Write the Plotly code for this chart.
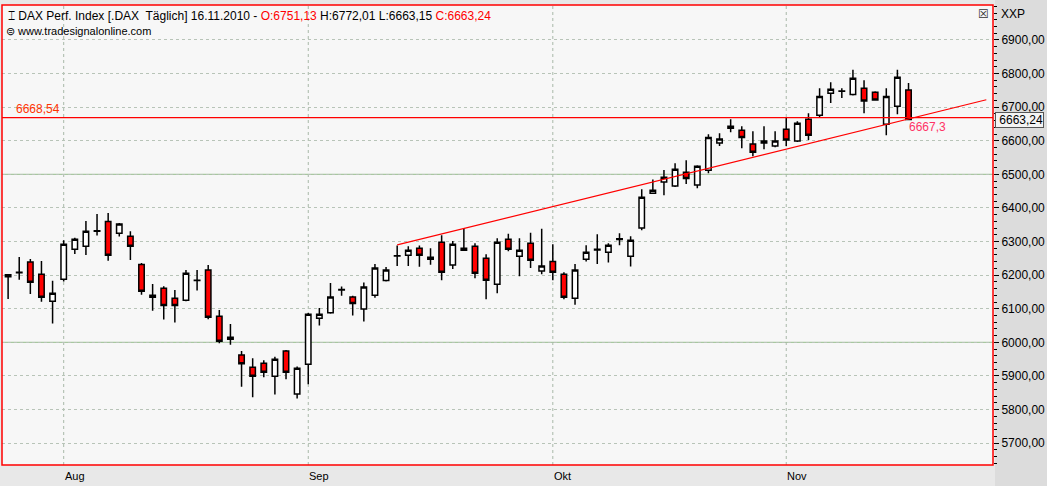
import pandas as pd
import plotly.graph_objects as go

# DAX daily candles, 26.07.2010 - 16.11.2010
dates = pd.bdate_range("2010-07-26", "2010-11-16")
opens = [6201, 6207, 6239, 6203, 6122, 6188, 6277, 6286, 6331, 6360, 6325, 6316, 6232, 6140,
         6161, 6131, 6125, 6184, 6215, 6078, 6015, 5962, 5926, 5938, 5899, 5974, 5846, 5935,
         6072, 6088, 6156, 6135, 6099, 6140, 6184, 6257, 6259, 6280, 6253, 6298, 6230, 6280,
         6286, 6250, 6173, 6307, 6256, 6295, 6212, 6241, 6203, 6131, 6247, 6275, 6268, 6306,
         6256, 6340, 6444, 6477, 6465, 6506, 6468, 6512, 6593, 6643, 6631, 6590, 6599, 6584,
         6634, 6599, 6664, 6676, 6741, 6747, 6738, 6756, 6744, 6649, 6703, 6751]
highs = [6201, 6254, 6248, 6242, 6183, 6304, 6311, 6361, 6382, 6385, 6355, 6331, 6236, 6174,
         6167, 6156, 6215, 6215, 6230, 6096, 6055, 5974, 5953, 5947, 5957, 5977, 5928, 6087,
         6102, 6177, 6166, 6139, 6178, 6233, 6224, 6288, 6286, 6288, 6280, 6319, 6302, 6340,
         6295, 6262, 6310, 6323, 6310, 6326, 6338, 6292, 6209, 6233, 6289, 6322, 6295, 6325,
         6316, 6456, 6485, 6513, 6533, 6542, 6527, 6619, 6622, 6664, 6643, 6628, 6643, 6628,
         6670, 6658, 6682, 6756, 6774, 6756, 6811, 6780, 6747, 6756, 6811, 6772]
lows = [6129, 6186, 6144, 6121, 6056, 6181, 6263, 6260, 6318, 6243, 6315, 6245, 6142, 6094,
        6068, 6059, 6122, 6154, 6069, 5997, 5993, 5868, 5837, 5896, 5845, 5890, 5833, 5875,
        6050, 6085, 6139, 6080, 6062, 6133, 6181, 6227, 6227, 6225, 6231, 6185, 6218, 6274,
        6191, 6128, 6146, 6271, 6197, 6221, 6203, 6185, 6128, 6112, 6241, 6233, 6238, 6289,
        6226, 6334, 6444, 6438, 6462, 6471, 6459, 6503, 6584, 6625, 6578, 6554, 6575, 6581,
        6584, 6596, 6602, 6670, 6712, 6727, 6735, 6682, 6719, 6616, 6679, 6663]
closes = [6195, 6209, 6179, 6134, 6146, 6292, 6307, 6331, 6332, 6259, 6352, 6286, 6152, 6134,
          6110, 6110, 6206, 6185, 6075, 6003, 6009, 5936, 5899, 5911, 5950, 5911, 5923, 6084,
          6084, 6135, 6157, 6116, 6165, 6221, 6215, 6258, 6274, 6259, 6247, 6209, 6292, 6274,
          6206, 6185, 6298, 6277, 6274, 6244, 6227, 6209, 6134, 6215, 6268, 6277, 6289, 6308,
          6304, 6432, 6453, 6491, 6515, 6488, 6524, 6610, 6605, 6637, 6610, 6566, 6593, 6599,
          6602, 6652, 6616, 6732, 6753, 6748, 6786, 6718, 6721, 6732, 6789, 6663]

month_labels = ["Aug", "Sep", "Okt", "Nov"]
month_starts = ["2010-08-02", "2010-09-01", "2010-10-01", "2010-11-01"]
price_ticks = list(range(5700, 7000, 100))
support_level = 6668.54
green_levels = [6000, 6500]
trend_x = [35, 88]
trend_y = [6290, 6722]

idx = list(range(len(dates)))
month_idx = [list(dates.strftime("%Y-%m-%d")).index(d) for d in month_starts]

fig = go.Figure()
fig.add_trace(go.Candlestick(
    x=idx, open=opens, high=highs, low=lows, close=closes,
    increasing=dict(line=dict(color="black", width=1.5), fillcolor="white"),
    decreasing=dict(line=dict(color="black", width=1.5), fillcolor="#ff0000"),
    whiskerwidth=0, showlegend=False, hoverinfo="skip",
))
fig.add_trace(go.Scatter(
    x=trend_x, y=trend_y, mode="lines", line=dict(color="#ff0000", width=1.2),
    showlegend=False, hoverinfo="skip",
))

shapes = []
for lv in green_levels:
    shapes.append(dict(type="line", xref="paper", x0=0, x1=1, yref="y", y0=lv, y1=lv,
                       line=dict(color="#a8c8a0", width=1.2), layer="below"))
for m in month_idx:
    shapes.append(dict(type="line", xref="x", x0=m, x1=m, yref="paper", y0=0, y1=1,
                       line=dict(color="#a8b8a8", width=1, dash="dot"), layer="below"))
shapes.append(dict(type="line", xref="paper", x0=0, x1=1, yref="y", y0=support_level,
                   y1=support_level, line=dict(color="#ff0000", width=1.2)))
# plot frame, axis panel
shapes.append(dict(type="rect", xref="paper", yref="paper", x0=0, x1=1, y0=0, y1=1,
                   line=dict(color="#ff0000", width=1.5)))
shapes.append(dict(type="rect", xref="paper", yref="paper", x0=1.002, x1=1.06, y0=-0.05, y1=1.02,
                   fillcolor="#dcdcdc", line=dict(width=0), layer="below"))

annotations = []
for m, lab in zip(month_idx, month_labels):
    annotations.append(dict(x=m, y=0, xref="x", yref="paper", yshift=-3, text=lab,
                            showarrow=False, xanchor="left", yanchor="top", xshift=-1,
                            font=dict(size=11, color="black")))
annotations += [
    dict(x=0.004, y=0.995, xref="paper", yref="paper", xanchor="left", yanchor="top",
         showarrow=False, font=dict(size=12, color="black"),
         text="⌶ DAX Perf. Index [.DAX  Täglich] 16.11.2010 - "
              "<span style='color:#ff0000'>O:6751,13</span> H:6772,01 L:6663,15 "
              "<span style='color:#ff0000'>C:6663,24</span>"),
    dict(x=0.002, y=0.96, xref="paper", yref="paper", xanchor="left", yanchor="top",
         showarrow=False, font=dict(size=11, color="black"),
         text="⊜ www.tradesignalonline.com"),
    dict(x=0.012, y=support_level, xref="paper", yref="y", xanchor="left", yanchor="bottom",
         showarrow=False, font=dict(size=12, color="#ff3300"), text="6668,54"),
    dict(x=81, y=support_level, xref="x", yref="y", xanchor="left", yanchor="top", xshift=-2,
         showarrow=False, font=dict(size=12, color="#ff3366"), text="6667,3"),
    dict(x=1.002, y=closes[-1], xref="paper", yref="y", xanchor="left", yanchor="middle",
         showarrow=False, font=dict(size=12, color="black"), text=" 6663,24",
         bgcolor="#f4f4f4", bordercolor="#555555", borderwidth=1, borderpad=0),
    dict(x=1.006, y=1.0, xref="paper", yref="paper", xanchor="left", yanchor="top",
         showarrow=False, font=dict(size=12, color="black"), text="XXP"),
    dict(x=0.998, y=1.0, xref="paper", yref="paper", xanchor="right", yanchor="top",
         showarrow=False, font=dict(size=12, color="#333333"), text="☒"),
]

fig.update_layout(
    width=1047, height=486,
    margin=dict(l=2, r=54, t=5, b=21, autoexpand=False),
    paper_bgcolor="#e8e8e8", plot_bgcolor="#f7f7f7",
    font=dict(family="Liberation Sans, Arial", size=12, color="black"),
    separators=",.",
    shapes=shapes, annotations=annotations,
    xaxis=dict(range=[-0.55, 88.6], showticklabels=False, showgrid=False, zeroline=False,
               rangeslider=dict(visible=False), fixedrange=True),
    yaxis=dict(side="right", range=[5635, 7004], tickvals=price_ticks, tickformat=".2f",
               showgrid=True, gridcolor="#b8c4b8", griddash="dot", gridwidth=1,
               ticks="outside", ticklen=5, tickcolor="black", zeroline=False,
               minor=dict(dtick=20, ticks="outside", ticklen=3, tickcolor="black", showgrid=False),
               tickfont=dict(size=12)),
)

# drop the browser's default page margin so the chart sits at the window corner
fig.write_html("out.html", config={"displayModeBar": False},
               post_script="document.body.style.margin='0';")
